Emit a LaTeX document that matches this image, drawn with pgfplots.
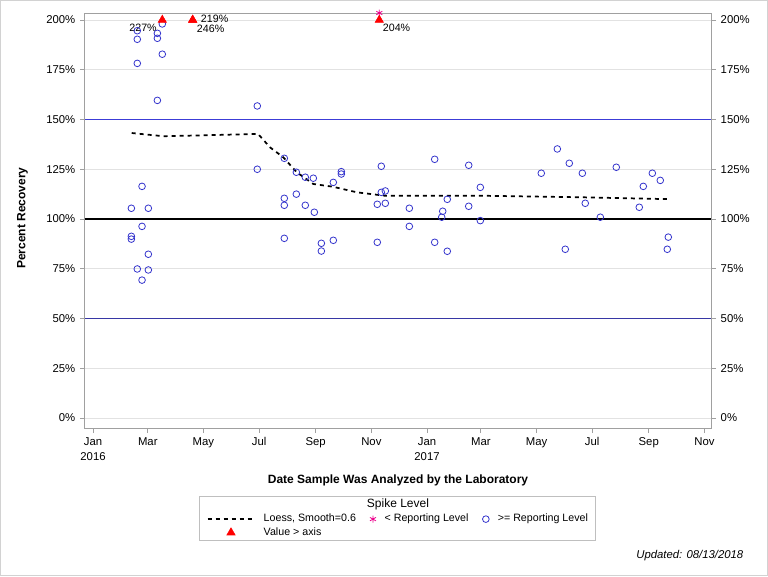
\documentclass[border=0pt]{standalone}
\usepackage{fontspec}
\setmainfont{Liberation Sans}
\usepackage{pgfplots}
\pgfplotsset{compat=1.18}
\definecolor{ptblue}{RGB}{51,51,204}
\definecolor{refblue}{RGB}{60,60,215}
\definecolor{refblue2}{RGB}{55,55,165}
\definecolor{framegray}{RGB}{160,160,160}
\definecolor{gridgray}{RGB}{226,226,226}

\pgfplotstableread{
d p
42 105.4
42 91.3
42 89.9
48.5 194.6
48.5 190.3
48.5 178.2
48.5 74.9
53.7 116.4
53.7 96.3
53.7 69.3
60.6 105.4
60.6 82.3
60.6 74.4
70.5 193.3
70.5 190.8
70.5 159.6
75.9 198
75.9 182.8
180 156.8
180 125
209.6 130.5
209.6 110.4
209.6 106.9
209.6 90.3
222.8 123.5
222.8 112.5
232.6 121
232.6 106.9
241.4 120.5
242.5 103.4
250.2 87.8
250.2 83.9
263.3 118.4
263.3 89.3
272.1 123.8
272.1 122.6
311.5 107.4
311.5 88.3
315.9 126.5
315.9 113.4
320.3 114.1
320.3 107.9
346.6 105.4
346.6 96.3
374.4 130
374.4 88.3
382.1 100.9
383.2 103.9
388.2 109.9
388.2 83.8
411.7 127
411.7 106.4
424.4 115.9
424.4 99.2
491.2 123
508.8 135.2
517.5 84.8
521.9 128
536.2 123
539.4 107.9
555.9 100.9
573.4 126
598.6 105.9
603 116.4
612.9 123
621.6 119.4
629.3 84.8
630.4 90.9
}\geRL

\pgfplotstableread{
d p
42.4 143.2
77.0 141.6
117.2 142.0
175.7 142.7
181.1 142.6
194.0 136.0
208.5 131.0
223.2 123.5
241.4 117.6
263.0 116.2
289.3 113.4
314.5 112.0
320.0 111.7
424.1 111.7
536.9 110.9
629.0 110.0
}\loess

\pgfplotstableread{
d p
75.9 200
109.2 200
109.2 200
313.7 200
}\overaxis

\begin{document}
\begin{tikzpicture}[x=1pt,y=1pt]
\useasboundingbox (0,0) rectangle (576,432);
\draw[gray!35, line width=0.75pt] (0.375,0.375) rectangle (575.625,431.625);
\begin{axis}[
  at={(63.75pt,111pt)}, anchor=south west,
  width=469.5pt, height=311.25pt, scale only axis,
  xmin=-8.8, xmax=677.2, ymin=-5, ymax=203.5,
  axis line style={framegray, line width=0.75pt},
  xtick={0,60,121,182,244,305,366,425,486,547,609,670},
  xticklabels={{Jan\\2016},Mar,May,Jul,Sep,Nov,{Jan\\2017},Mar,May,Jul,Sep,Nov},
  xticklabel style={align=center},
  ytick={0,25,...,200},
  yticklabels={0\%,25\%,50\%,75\%,100\%,125\%,150\%,175\%,200\%},
  tick align=outside, tick pos=left,
  major tick length=3.75pt,
  tick style={framegray, line width=0.6pt},
  ymajorgrids, grid style={gridgray, line width=0.6pt},
  tick label style={font=\fontsize{8.5}{11}\selectfont},
  xlabel={Date Sample Was Analyzed by the Laboratory},
  ylabel={Percent Recovery},
  label style={font=\bfseries\fontsize{9}{11}\selectfont},
  xlabel style={at={(axis description cs:0.5,-0.1253)}, anchor=center},
  ylabel style={at={(axis description cs:-0.1000,0.506)}, anchor=center},
  legend columns=3,
  legend cell align=left,
  legend style={at={(axis description cs:0.19436,-0.204)}, anchor=north west,
    draw=none, fill=none, inner sep=0pt,
    font=\fontsize{8}{10}\selectfont,
    nodes={inner xsep=0pt, inner ysep=1pt},
    /tikz/every odd column/.append style={column sep=6.5pt},
    /tikz/every even column/.append style={column sep=10.5pt},
    row sep=0.8pt},
]
% reference lines
\addplot[forget plot, refblue, line width=0.75pt] coordinates {(-8.8,150) (677.2,150)};
\addplot[forget plot, refblue2, line width=0.9pt] coordinates {(-8.8,50) (677.2,50)};
\addplot[forget plot, black, line width=1.6pt] coordinates {(-8.8,100) (677.2,100)};
% loess
\addplot[forget plot, black, line width=1.3pt, dash pattern=on 3pt off 3pt] table[x=d,y=p] {\loess};
% points
\addplot[forget plot, only marks, mark=o, mark size=2.5pt, ptblue, line width=0.6pt] table[x=d,y=p] {\geRL};
\addplot[forget plot, only marks, mark=asterisk, mark size=2.6pt, magenta, line width=0.6pt] coordinates {(313.7,203.5)};
\addplot[forget plot, only marks, mark=triangle*, mark size=3.6pt, red, fill=red] table[x=d,y=p] {\overaxis};
% value labels
\node[anchor=east, inner sep=0pt, font=\fontsize{8}{10}\selectfont] at (axis cs:70.1,196) {227\%};
\node[anchor=west, inner sep=0pt, font=\fontsize{8}{10}\selectfont] at (axis cs:118,200.5) {219\%};
\node[anchor=west, inner sep=0pt, font=\fontsize{8}{10}\selectfont] at (axis cs:113.6,195.5) {246\%};
\node[anchor=west, inner sep=0pt, font=\fontsize{8}{10}\selectfont] at (axis cs:317.4,196) {204\%};
% legend
\addlegendimage{legend image code/.code={\draw[black, line width=1.1pt, dash pattern=on 3pt off 3pt] (0pt,0pt) -- (35pt,0pt);}}
\addlegendentry{Loess, Smooth=0.6}
\addlegendimage{legend image code/.code={\draw[magenta, line width=0.6pt, mark=asterisk, mark size=2.6pt] plot coordinates {(0pt,0pt)};}}
\addlegendentry{< Reporting Level}
\addlegendimage{legend image code/.code={\draw[ptblue, line width=0.6pt, mark=o, mark size=2.5pt] plot coordinates {(0pt,0pt)};}}
\addlegendentry{>= Reporting Level}
\addlegendimage{legend image code/.code={\draw[red, fill=red, mark=triangle*, mark size=3.6pt] plot coordinates {(17.5pt,0pt)};}}
\addlegendentry{Value > axis}
\end{axis}
\begin{axis}[
  at={(63.75pt,111pt)}, anchor=south west,
  width=469.5pt, height=311.25pt, scale only axis,
  xmin=-8.8, xmax=677.2, ymin=-5, ymax=203.5,
  axis x line=none, axis y line*=right,
  axis line style={framegray, line width=0.75pt},
  ytick={0,25,...,200},
  yticklabels={0\%,25\%,50\%,75\%,100\%,125\%,150\%,175\%,200\%},
  tick align=outside,
  major tick length=3.75pt,
  tick style={framegray, line width=0.6pt},
  tick label style={font=\fontsize{8.5}{11}\selectfont},
]
\addplot[draw=none] coordinates {(0,0)};
\end{axis}
\draw[gray!50, line width=0.75pt] (149.5,27) rectangle (446.25,59.5);
\node[font=\fontsize{9}{11}\selectfont] at (298.5,54) {Spike Level};
\node[anchor=east, font=\itshape\fontsize{8.5}{10}\selectfont] at (561,15.2) {Updated: 08/13/2018};
\end{tikzpicture}
\end{document}
